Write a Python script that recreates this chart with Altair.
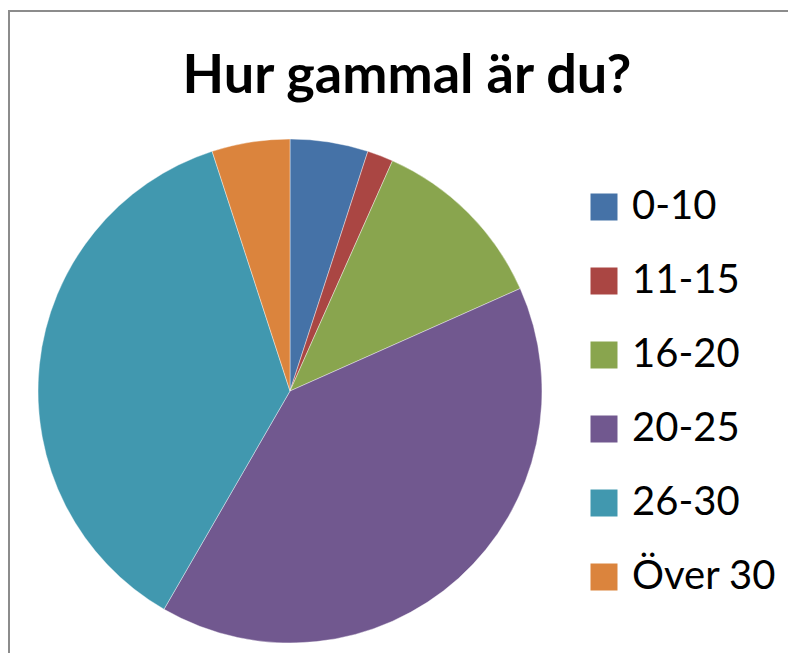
import altair as alt
import pandas as pd

categories = ["0-10", "11-15", "16-20", "20-25", "26-30", "Över 30"]
values = [3, 1, 7, 24, 22, 3]
colors = ["#4572A7", "#AA4643", "#89A54E", "#71588F", "#4198AF", "#DB843D"]
title_text = "Hur gammal är du?"

W, H = 780, 645

df = pd.DataFrame({"Ålder": categories, "Antal": values, "ordning": list(range(len(categories)))})

one = pd.DataFrame({"a": [0]})
top_line = alt.Chart(one).mark_rule(stroke="#8c8c8c", strokeWidth=2).encode(
    x=alt.value(0), x2=alt.value(W), y=alt.value(3)
)
left_line = alt.Chart(one).mark_rule(stroke="#8c8c8c", strokeWidth=2).encode(
    x=alt.value(1), y=alt.value(3), y2=alt.value(H)
)
cover = alt.Chart(one).mark_rule(stroke="#ffffff", strokeWidth=8).encode(
    x=alt.value(W - 6), y=alt.value(4), y2=alt.value(H)
)

pie = alt.Chart(df).mark_arc(radius=252, stroke="#ffffff", strokeWidth=0.4).encode(
    theta=alt.Theta("Antal:Q", stack=True),
    color=alt.Color(
        "Ålder:N",
        scale=alt.Scale(domain=categories, range=colors),
        legend=alt.Legend(
            title=None, orient="none", legendX=576, legendY=179,
            symbolType="square", symbolSize=729, symbolStrokeWidth=0,
            labelFont="Lato", labelFontSize=40, labelColor="#000000",
            labelOffset=8, rowPadding=34, padding=0,
        ),
    ),
    order=alt.Order("ordning:Q"),
    x=alt.value(282),
    y=alt.value(383),
)

title = alt.Chart(pd.DataFrame({"t": [title_text]})).mark_text(
    font="Lato", fontSize=54, fontWeight="bold", color="#000000",
    align="center", baseline="alphabetic"
).encode(text="t:N", x=alt.value(399), y=alt.value(85))

chart = alt.layer(top_line, left_line, pie, title, cover).properties(
    width=W, height=H, autosize=alt.AutoSizeParams(type="none"), padding=0
).configure_view(stroke=None)

chart.save("out.html", embed_options={"renderer": "svg", "actions": False})
